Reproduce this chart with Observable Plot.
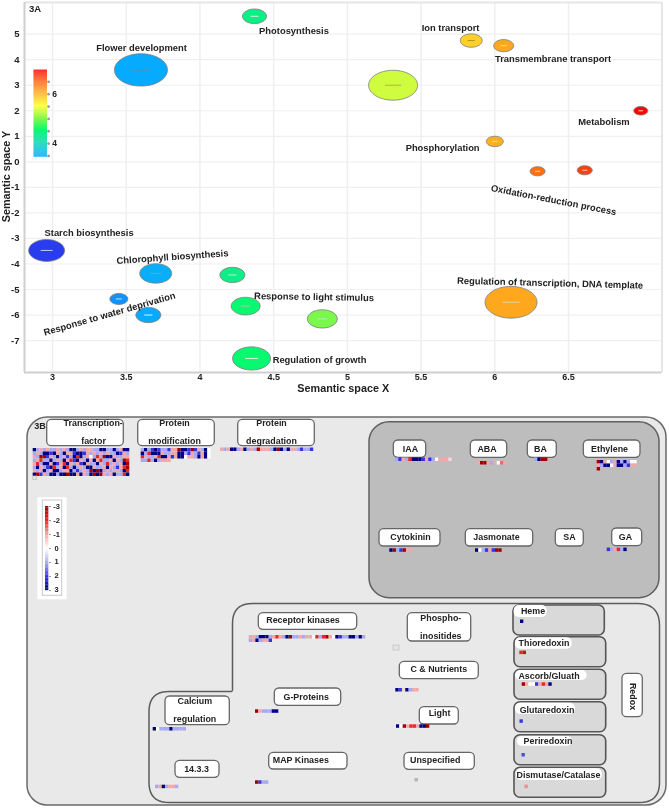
<!DOCTYPE html>
<html><head><meta charset="utf-8">
<style>
html,body{margin:0;padding:0;background:#fff;overflow:hidden}
#wrap{position:relative;width:669px;height:809px}
#wrap svg{display:block;filter:blur(.3px)}
#legA{position:absolute;left:30px;top:66px}
</style>
<script src="https://cdn.jsdelivr.net/npm/d3@7"></script>
<script src="https://cdn.jsdelivr.net/npm/@observablehq/plot@0.6"></script>
</head><body><div id="wrap"><div id="chartA"></div><div id="legA"></div><div id="chartB"></div></div>
<script>
// ---------- 3A data ----------
const xs    =[3.6,4.37,5.31,5.84,6.06,6.99,6.0,6.29,6.61,2.96,3.7,4.22,3.45,3.65,4.31,4.83,4.35,6.11];
const ys    =[3.6,5.7,3.0,4.75,4.55,2.0,0.8,-0.37,-0.33,-3.47,-4.37,-4.43,-5.37,-6.0,-5.65,-6.15,-7.7,-5.5];
const radii =[26.5,12,24.5,11,10,7,8.5,7.5,7.5,18,16,12.5,9,12.5,14.5,15,19,26];
const scores=[3.45,4.35,5.3,5.8,6.05,6.95,6.0,6.4,6.65,3.0,3.5,4.35,3.35,3.45,4.5,4.95,4.5,6.05];
const dashColors=["#6a8a9a","#d8f0e0","#a8b070","#c09020","#e8d8b0","#f8d0d0","#e8d8b0","#f0d8c0","#f0d0c0","#c0c8f0","#80a0a8","#c0e8d0","#c0e0f8","#e0f0ff","#a0d0a0","#c0e8b0","#e0f0e0","#e0d0a0"];
const labelText=["Flower development","Photosynthesis","Ion transport","Transmembrane transport","Metabolism","Phosphorylation","Oxidation-reduction process","Starch biosynthesis","Chlorophyll biosynthesis","Response to water deprivation","Response to light stimulus","Regulation of growth","Regulation of transcription, DNA template"];
const labelX  =[3.604,4.638,5.70,6.395,6.74,5.646,6.399,3.248,3.814,3.387,4.774,4.811,6.375];
const labelY  =[4.45,5.115,5.23,4.02,1.554,0.536,-1.5,-2.79,-3.73,-5.96,-5.295,-7.76,-4.75];
const labelRot=[0,0,0,0,0,0,11,0,-4,-16,1,0,1.5];
const xTicks=[3,3.5,4,4.5,5,5.5,6,6.5];
const yTicks=[5,4,3,2,1,0,-1,-2,-3,-4,-5,-6,-7];
const scoreStops =[3.0,3.45,4.0,4.5,5.0,5.5,6.0,6.5,6.97];
const scoreColors=["#2a3cf0","#06aaff","#18d8b8","#08f870","#88f848","#ffff38","#ffb020","#ff6010","#ff0000"];
const legendTicks=[3.5,4,4.5,5,5.5,6,6.5];
const legendLabels=[4,6];

const bubbles=xs.map((x,i)=>({x,y:ys[i],r:radii[i],score:scores[i],dash:dashColors[i]}));
const labels=labelText.map((text,i)=>({text,x:labelX[i],y:labelY[i],rot:labelRot[i]}));
const K=0.5523;
const ellipseSymbol={draw(c,s){const a=Math.sqrt(s/Math.PI),b=a*0.61;
  c.moveTo(a,0);
  c.bezierCurveTo(a,K*b,K*a,b,0,b);
  c.bezierCurveTo(-K*a,b,-a,K*b,-a,0);
  c.bezierCurveTo(-a,-K*b,-K*a,-b,0,-b);
  c.bezierCurveTo(K*a,-b,a,-K*b,a,0);
  c.closePath();}};
const dashSymbol={draw(c,s){const a=Math.sqrt(s/Math.PI);c.moveTo(-0.33*a,0);c.lineTo(0.33*a,0);}};
const font="Liberation Sans, Arial, sans-serif";
const xDom=[2.81,7.134], yDom=[-8.25,6.24];

const plotA=Plot.plot({width:669,height:405,marginLeft:24,marginRight:7.5,marginTop:2,marginBottom:33,
  style:{fontFamily:font,background:"transparent",color:"#222"},
  x:{domain:xDom},y:{domain:yDom},
  r:{type:"identity"},
  color:{type:"linear",domain:scoreStops,range:scoreColors,interpolate:"rgb"},
  marks:[
    Plot.ruleX(xTicks,{stroke:"#efefef",strokeWidth:1.5}),
    Plot.ruleY(yTicks,{stroke:"#efefef",strokeWidth:1.2}),
    Plot.ruleY([yDom[1]],{stroke:"#e6e6e6",strokeWidth:2}),
    Plot.ruleX([xDom[1]],{stroke:"#e6e6e6",strokeWidth:2}),
    Plot.ruleX([xDom[0]],{stroke:"#cfcfcf",strokeWidth:2}),
    Plot.ruleY([yDom[0]],{stroke:"#cfcfcf",strokeWidth:2}),
    Plot.axisX(xTicks,{tickSize:0,tickPadding:1,fontSize:9,fontWeight:"bold",label:null,tickFormat:d=>String(d)}),
    Plot.axisY(yTicks,{tickSize:0,tickPadding:5,fontSize:9.5,fontWeight:"bold",label:null,tickFormat:d=>String(d)}),
    Plot.dot(bubbles,{x:"x",y:"y",r:"r",symbol:ellipseSymbol,fill:"score",stroke:"#7d7d7d",strokeWidth:1,strokeOpacity:.8}),
    Plot.dot(bubbles,{x:"x",y:"y",r:"r",symbol:dashSymbol,fill:"none",stroke:"dash",strokeWidth:1}),
    Plot.text(labels,{x:"x",y:"y",text:"text",rotate:"rot",fontSize:9.4,fontWeight:"bold",fill:"#222"}),
    Plot.text(["3A"],{frameAnchor:"top-left",dx:4.5,dy:2.5,fontSize:9.5,fontWeight:"bold",fill:"#222"}),
    Plot.text(["Semantic space X"],{frameAnchor:"bottom",lineAnchor:"middle",dy:16.5,fontSize:10.8,fontWeight:"bold",fill:"#222"}),
    Plot.text(["Semantic space Y"],{frameAnchor:"left",textAnchor:"middle",dx:-18,dy:-11,rotate:-90,fontSize:10.8,fontWeight:"bold",fill:"#222"})
  ]});
document.getElementById("chartA").append(plotA);

// colour bar of 3A
const barSteps=d3.range(3.45,6.97,0.04);
const plotLeg=Plot.plot({width:50,height:94.7,marginLeft:3.5,marginRight:33,marginTop:3.7,marginBottom:4,
  style:{fontFamily:font,background:"transparent",color:"#222"},
  x:{domain:[0,1],axis:null},y:{domain:[3.45,6.97],axis:null},
  color:{type:"linear",domain:scoreStops,range:scoreColors,interpolate:"rgb"},
  marks:[
    Plot.rect(barSteps,{x1:0,x2:1,y1:d=>d,y2:d=>d+0.045,fill:d=>d}),
    Plot.dot(legendTicks,{x:()=>1.08,y:d=>d,r:1.4,fill:"#999"}),
    Plot.text(legendLabels,{x:()=>1.52,y:d=>d,text:d=>String(d),fontSize:8.5,fontWeight:"bold",fill:"#222"})
  ]});
document.getElementById("legA").append(plotLeg);

// ---------- 3B data ----------
const tfRows=[
 [3,1,-1,1,-1,1,1,-1,1,-1,1,3,3,1,-1,1,-1,-1,1,1,3,3,1,1,3,1,-1,3,3],
 [1,-1,1,3,3,2,3,-1,1,3,-1,-1,2,3,3,2,-1,1,-1,1,-1,1,-1,1,1,3,2,-1,1],
 [-1,1,-3,-3,2,-1,1,3,1,-1,2,1,3,-2,3,1,-1,0,1,-2,1,-3,3,3,-1,1,1,-1,-1],
 [1,-1,-2,1,1,3,1,-1,1,3,-1,-2,2,3,-1,1,3,-1,3,-1,-2,1,1,-1,3,-1,1,-3,-2],
 [-1,-2,1,3,3,-1,3,2,-1,-2,3,-1,1,-1,2,3,-1,1,1,3,-1,1,-2,1,-1,1,-1,3,-3],
 [1,3,-1,1,2,3,-2,1,-1,3,-2,1,3,1,-1,1,3,3,-1,1,1,-1,3,-1,1,2,-1,-2,-3],
 [-1,1,-1,3,1,-1,3,3,1,-1,-1,3,1,2,1,-1,1,-3,3,-3,3,1,-1,1,-1,-1,1,3,-2],
 [3,-3,2,-1,1,3,3,1,3,3,-3,3,3,-1,3,-1,1,3,-3,3,-3,-1,1,-1,3,1,1,-2,3]];
const pmRows=[
 [1,3,1,2,3,2,1,1,2,-1,-1,-3,3,3,2,-3,2,-1,1,3,0],
 [3,1,-2,3,3,3,-1,1,1,-1,-1,3,3,1,2,-1,1,2,-1,3,0],
 [-2,-1,1,1,-1,-2,3,3,-1,2,-1,3,3,0,-1,-1,1,3,-1,3,0],
 [1,1,-2,1,3,1,-1,-1,-1]];
const pdRows=[[-1,1,-1,3,3,1,-1,3,1,-1,1,-3,-1,-1,-1,1,3,-3,3,1,3,-1,-1,1,2,1,1,2]];
const iaaRows=[[1,2,-1,1,-2,3,3,3,2,-1,2,1,0,-1,-1,-1,-0.5]];
const abaRows=[[-1,-3,-3,-1,1,-1,0,-1.5,-1]];
const baRows=[[1,3,-3,-3]];
const ethRows=[[-3,3,-1,0,1,-1,3,1,3,1,0,0],[-1,1,3,3,0,-1,3,3,1,2,-1,-1],[-3]];
const ckRows=[[3,-3,1,2,-3,-1,-1]];
const jaRows=[[3,0,1,2,-1,2,-3,-3]];
const gaRows=[[2,1,-1,-2,1,3]];
const rkRows=[
 [-1,-1,1,3,3,3,1,-1,-2,-1,1,3,-3,1,1,-1,1,-1,-1,0,-2,1,-2,-3,-1,0,3,2,1,1,3,3,1,3,1],
 [1,-1,3,1,-1,-1,2]];
const gpRows=[[-3,-1,1,1,1,3,3]];
const caRows=[[3,0,1,1,1,3,1,1,1,1]];
const t33Rows=[[1,-1,3,1,-1,-1,1]];
const mapRows=[[-3,2,1,1]];
const cnRows=[[3,2,-0.5,3,1,-1,-1]];
const lightRows=[[3,0,-3,-1,-2,-2,-1,3,3,-3]];
const hemeRows=[[3]];
const thioRows=[[-2,-2.5]];
const ascRows=[[-3,-1,0,0,2,-1,-2,-1,3]];
const gluRows=[[2]];
const perRows=[[1.8]];
const dismRows=[[-1.2]];
const legendValues=[-3,-2,-1,0,1,2,3];
const legendNames=["-3","-2","-1","0","1","2","3"];
const heatStops=[-3,-2,-1,0,1,2,3];
const heatColors=["#a00000","#e82828","#f2a8a8","#ffffff","#a8a8f4","#3434e0","#000080"];

// ---------- 3B layout (page pixels) ----------
const C=3.33, CH=3.5;
const strips=[
 [tfRows,32.7,448],[pmRows,140.7,448],[pdRows,220,447.5],[iaaRows,395,457.5],[abaRows,476.7,461],
 [baRows,534,457.5],[ethRows,596.7,460],[ckRows,389.3,548.3],[jaRows,475,548.3],[gaRows,606.7,547.6],
 [rkRows,248.7,635],[gpRows,255,709.3],[caRows,152.7,727],[t33Rows,155,784.7],[mapRows,255,780.3],
 [cnRows,395.3,688],[lightRows,396,724.3],[hemeRows,520,619.5],[thioRows,519.3,650.6],[ascRows,521.7,682.3],
 [gluRows,519.5,719.3],[perRows,521.5,753],[dismRows,524.5,784.6]];
const cells=strips.flatMap(([rows,x0,y0])=>rows.flatMap((row,r)=>row.map((v,c)=>({x:x0+c*C,y:y0+r*CH,v}))));
const paleCells=[[32.7,476,4,3.4],[393,645,6,5]];
const greyCells=[[414.5,778,3.4,3.4]];
const panels=[[369,659,421.7,597.7,20,"#bdbdbd"]];
const subPanels=[[513,604.3,605,635],[514,605.7,636.7,666.7],[514,605.7,669.3,699.3],[514,605.7,701.7,731.7],[514,605.7,734.7,764.7],[514,605.7,767.3,797.3]];
const pills=[[513.7,546.7,605,617],[515,571.7,637.3,648.7],[515,586.7,670,680],[515,575,702.7,714],[516.7,572,736,745.7],[516,601.7,768.3,780]];
const boxes=[
 [46.7,123.3,419.3,445.7],[137.7,214.3,419.3,445.7],[237.7,314.3,419.3,445.7],
 [393.3,425.7,440,457.3],[470.3,506.7,440,457.3],[527.3,556.3,440,457.3],[583.3,640,440,457.3],
 [379,440,528.7,546],[465.3,532.7,528.7,546],[555.3,583.3,528.7,546],[611.7,641.7,528,545.7],
 [258.3,356.7,612.7,629.3],[274.3,340.7,688,705.3],[165,229.3,696,724.7],[175,219,760.3,777.3],[268.7,347,752.3,769],
 [407.3,470.7,612.7,641],[399.3,478.3,661.3,678.7],[419.3,458.3,706.7,724],[404,474.3,752.3,769.3],[622,642.3,673.3,716.7]];
const boxText=[
 ["Transcription-",92.7,423],["factor",93,441],["Protein",174,423],["modification",174,441],["Protein",271,422.5],["degradation",271,440.5],
 ["IAA",410,448.5],["ABA",486.5,448.5],["BA",540,448.5],["Ethylene",609,448.5],
 ["Cytokinin",410,537],["Jasmonate",496,537],["SA",569,537],["GA",625,536.5],
 ["Receptor kinases",302.5,620],["G-Proteins",305.7,697],["Calcium",194.3,700.7],["regulation",194.3,719],["14.3.3",196,768.7],["MAP Kinases",300.3,759.7],
 ["Phospho-",440.3,617.7],["inositides",440.3,635.7],["C & Nutrients",438.3,669],["Light",439,713],["Unspecified",434.7,759.7],
 ["Heme",532.5,610.7],["Thioredoxin",543.5,642.3],["Ascorb/Gluath",548.5,675.3],["Glutaredoxin",546.5,709.3],["Periredoxin",547.5,741],["Dismutase/Catalase",558,775]];
const outlineCorners=[[232,603,20],[659,603,22],[659,802,20],[148.5,802,20],[148.5,691,20],[232,691,2]];

function outline(corners){
  const pts=[],n=corners.length;
  corners.forEach(([x,y,r],i)=>{
    const [px,py]=corners[(i+n-1)%n],[qx,qy]=corners[(i+1)%n];
    const d1=Math.hypot(px-x,py-y),d2=Math.hypot(qx-x,qy-y);
    const a=[x+(px-x)*r/d1,y+(py-y)*r/d1],b=[x+(qx-x)*r/d2,y+(qy-y)*r/d2];
    for(let t=0;t<=1.0001;t+=0.1){const u=1-t;
      pts.push({x:u*u*a[0]+2*u*t*x+t*t*b[0],y:u*u*a[1]+2*u*t*y+t*t*b[1]});}
  });
  pts.push(pts[0]);return pts;
}
const boxMark=(a,o)=>Plot.rect(a,{x1:d=>d[0],x2:d=>d[1],y1:d=>d[2],y2:d=>d[3],...o});
const barV=d3.range(-3,3,0.1);
const barScaleY=d3.scaleLinear([-3,3],[506,590]);

const plotB=Plot.plot({width:669,height:404,margin:0,
  style:{fontFamily:font,background:"transparent",color:"#222"},
  x:{domain:[0,669],axis:null},y:{domain:[809,405],axis:null},
  color:{type:"linear",domain:heatStops,range:heatColors,interpolate:"rgb"},
  marks:[
    boxMark([[27,666,417,805]],{fill:"#e9e9e9",stroke:"#6a6a6a",strokeWidth:1.5,rx:20,ry:20}),
    boxMark(panels,{fill:d=>d[5],stroke:"#606060",strokeWidth:1.5,rx:20,ry:20}),
    Plot.line(outline(outlineCorners),{x:"x",y:"y",stroke:"#5c5c5c",strokeWidth:1.5}),
    boxMark(subPanels,{fill:"#d9d9d9",stroke:"#555",strokeWidth:1.6,rx:6,ry:6}),
    boxMark(pills,{fill:"#fff",rx:5,ry:5}),
    boxMark(boxes,{fill:"#fff",stroke:"#666",strokeWidth:1.3,rx:4.5,ry:4.5}),
    Plot.rect(cells,{x1:"x",x2:d=>d.x+C,y1:"y",y2:d=>d.y+CH,fill:"v"}),
    Plot.rect(paleCells,{x1:d=>d[0],x2:d=>d[0]+d[2],y1:d=>d[1],y2:d=>d[1]+d[3],fill:"#e4e4e4",stroke:"#c4c4c4",strokeWidth:.8}),
    Plot.rect(greyCells,{x1:d=>d[0],x2:d=>d[0]+d[2],y1:d=>d[1],y2:d=>d[1]+d[3],fill:"#b4b4b4"}),
    Plot.text(boxText,{x:d=>d[1],y:d=>d[2],text:d=>d[0],fontSize:8.9,fontWeight:"bold",fill:"#222"}),
    Plot.text(["Redox"],{x:()=>632,y:()=>696,rotate:90,fontSize:8.9,fontWeight:"bold",fill:"#222"}),
    Plot.text(["3B"],{x:()=>39.5,y:()=>426,fontSize:9,fontWeight:"bold",fill:"#222"}),
    boxMark([[37.3,66.7,497.3,599.3]],{fill:"#fff"}),
    boxMark([[42.3,61.7,500,595.3]],{fill:"none",stroke:"#c8c8c8",strokeWidth:1}),
    Plot.rect(barV,{x1:()=>45,x2:()=>48.3,y1:d=>barScaleY(d),y2:d=>barScaleY(d+0.11),fill:d=>d}),
    Plot.ruleY(legendValues,{x1:()=>49,x2:()=>51,y:d=>barScaleY(d),stroke:"#999",strokeWidth:1}),
    Plot.text(legendValues,{x:()=>56,y:d=>barScaleY(d)+(d>0?-1:0),text:(d,i)=>legendNames[i],fontSize:7.5,fontWeight:"bold",fill:"#222"})
  ]});
document.getElementById("chartB").append(plotB);
// soften the heat cells the way the reference's small squares are softened
const rectGroups=plotB.querySelectorAll('g[aria-label="rect"]');
if(rectGroups[5]) rectGroups[5].style.filter="blur(.5px)";
</script></body></html>
